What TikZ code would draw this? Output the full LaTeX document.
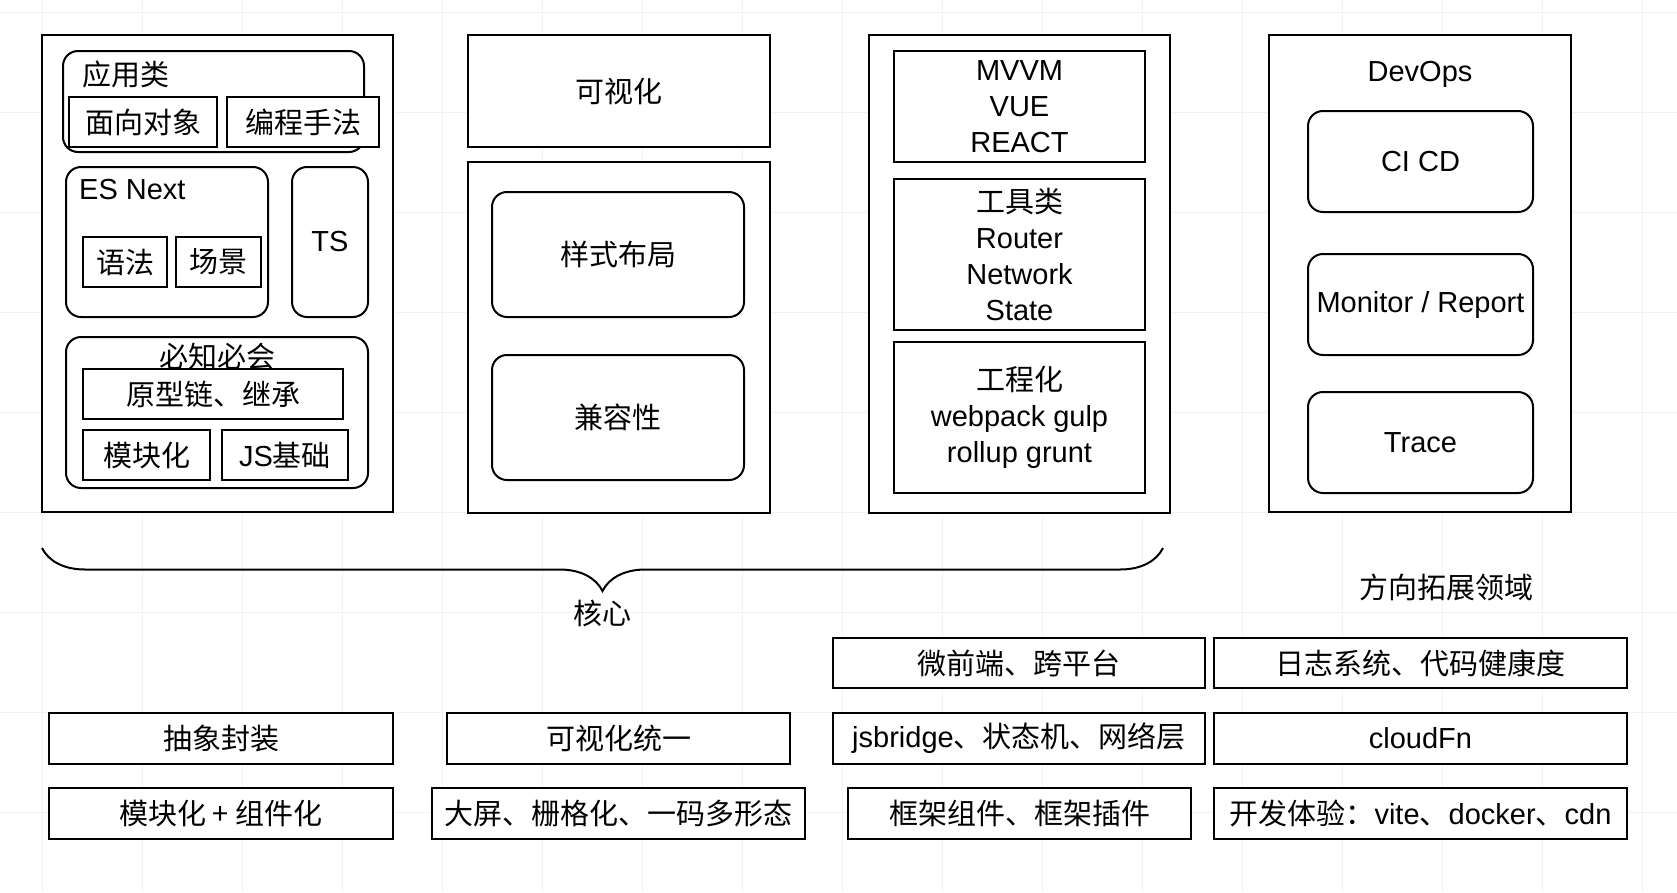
\documentclass[tikz,border=0pt]{standalone}
\usepackage{fontspec}
\setmainfont{Noto Sans CJK SC}
\newfontfamily\lat{Liberation Sans}
\usetikzlibrary{decorations.pathreplacing}

\begin{document}
\begin{tikzpicture}[x=1pt,y=-1pt]
  \tikzset{box/.style = {draw, fill=white, line width=2pt, inner sep=0pt, align=center, font=\fontsize{29}{36}\selectfont}}
  \tikzset{rbox/.style = {box, rounded corners=15pt}}
  \tikzset{lbl/.style = {inner sep=0pt, font=\fontsize{29}{36}\selectfont}}
  \tikzset{gridline/.style = {black!5, line width=1pt}}

  \useasboundingbox (0,0) rectangle (1677,892);
  \fill[white] (0,0) rectangle (1677,892);
  \foreach \gx in {42,142,...,1642}
    \draw[gridline] (\gx,0) -- (\gx,892);
  \foreach \gy in {12,112,...,812}
    \draw[gridline] (0,\gy) -- (1677,\gy);

  % core, column 1
  \node[box, minimum width=351pt, minimum height=477pt] (jsbox) at (217.5,273.5) {};
  \node[rbox, minimum width=301pt, minimum height=101pt] (app) at (213.5,101.5) {};
  \node[lbl, anchor=west] (applbl) at (82,74) {应用类};
  \node[box, minimum width=148pt, minimum height=50pt] (oop) at (143,122) {面向对象};
  \node[box, minimum width=152pt, minimum height=50pt] (prog) at (303,122) {编程手法};
  \node[rbox, minimum width=202pt, minimum height=150pt] (esn) at (167,242) {};
  \node[lbl, anchor=west] (esnlbl) at (79,190) {\lat ES Next};
  \node[box, minimum width=84pt, minimum height=50pt] (syntax) at (125,262) {语法};
  \node[box, minimum width=85pt, minimum height=50pt] (scene) at (218.5,262) {场景};
  \node[rbox, minimum width=76pt, minimum height=150pt] (ts) at (330,242) {\lat TS};
  \node[rbox, minimum width=302pt, minimum height=151pt] (must) at (217,412.5) {};
  \node[lbl] (mustlbl) at (217,356) {必知必会};
  \node[box, minimum width=260pt, minimum height=50pt] (proto) at (213,394) {原型链、继承};
  \node[box, minimum width=127pt, minimum height=50pt] (module) at (146.5,455) {模块化};
  \node[box, minimum width=126pt, minimum height=50pt] (jsbase) at (285,455) {{\lat JS}基础};

  % core, column 2
  \node[box, minimum width=302pt, minimum height=112pt] (vis) at (619,91) {可视化};
  \node[box, minimum width=302pt, minimum height=351pt] (visbox) at (619,337.5) {};
  \node[rbox, minimum width=252pt, minimum height=125pt] (layout) at (618,254.5) {样式布局};
  \node[rbox, minimum width=252pt, minimum height=125pt] (compat) at (618,417.5) {兼容性};

  % core, column 3
  \node[box, minimum width=301pt, minimum height=478pt] (fwbox) at (1019.5,274) {};
  \node[box, minimum width=251pt, minimum height=111pt] (mvvm) at (1019.5,106.5) {\lat MVVM\\\lat VUE\\\lat REACT};
  \node[box, minimum width=251pt, minimum height=151pt] (tools) at (1019.5,254.5) {工具类\\\lat Router\\\lat Network\\\lat State};
  \node[box, minimum width=251pt, minimum height=151pt] (eng) at (1019.5,417.5) {工程化\\\lat webpack gulp\\\lat rollup grunt};

  % devops
  \node[box, minimum width=302pt, minimum height=477pt] (devops) at (1420,273.5) {};
  \node[lbl] (devlbl) at (1420,74) {\lat DevOps};
  \node[rbox, minimum width=225pt, minimum height=101pt] (cicd) at (1420.5,161.5) {\lat CI CD};
  \node[rbox, minimum width=225pt, minimum height=101pt] (monitor) at (1420.5,304.5) {\lat Monitor / Report};
  \node[rbox, minimum width=225pt, minimum height=101pt] (trace) at (1420.5,442.5) {\lat Trace};

  \coordinate (bl) at (42,548);
  \coordinate (br) at (1163,548);
  \draw[line width=2pt, decorate, decoration={brace, amplitude=43pt, mirror}] (bl) -- (br);
  \node[lbl] (core) at (602,613) {核心};
  \node[lbl] (ext) at (1446,587) {方向拓展领域};

  % bottom rows
  \node[box, minimum width=372pt, minimum height=50pt] (micro) at (1019,663) {微前端、跨平台};
  \node[box, minimum width=413pt, minimum height=50pt] (logs) at (1420.5,663) {日志系统、代码健康度};
  \node[box, minimum width=344pt, minimum height=51pt] (abs) at (221,738.5) {抽象封装};
  \node[box, minimum width=343pt, minimum height=51pt] (visu) at (618.5,738.5) {可视化统一};
  \node[box, minimum width=372pt, minimum height=51pt] (bridge) at (1019,738.5) {{\lat jsbridge}、状态机、网络层};
  \node[box, minimum width=413pt, minimum height=51pt] (cloud) at (1420.5,738.5) {\lat cloudFn};
  \node[box, minimum width=344pt, minimum height=51pt] (comp) at (221,813.5) {模块化 + 组件化};
  \node[box, minimum width=373pt, minimum height=51pt] (screen) at (618.5,813.5) {大屏、栅格化、一码多形态};
  \node[box, minimum width=343pt, minimum height=51pt] (fwplug) at (1019.5,813.5) {框架组件、框架插件};
  \node[box, minimum width=413pt, minimum height=51pt] (dx) at (1420.5,813.5) {开发体验：{\lat vite}、{\lat docker}、{\lat cdn}};
\end{tikzpicture}
\end{document}
